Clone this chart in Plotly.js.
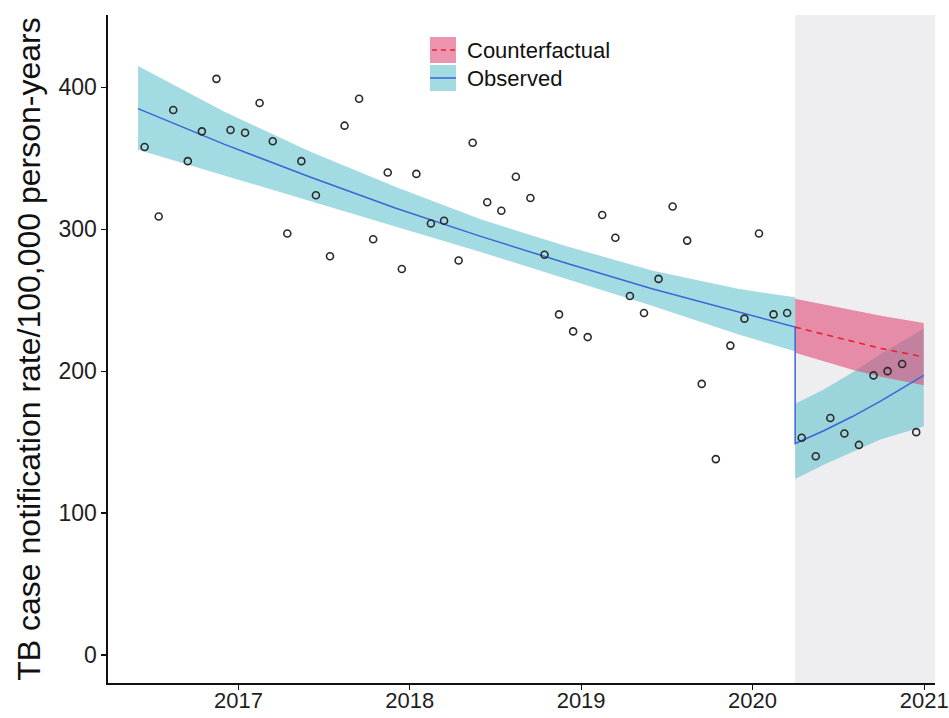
<!DOCTYPE html>
<html>
<head>
<meta charset="utf-8">
<script src="https://cdn.plot.ly/plotly-3.0.1.min.js"></script>
<style>
  html, body { margin: 0; padding: 0; background: #ffffff; }
  #chart { width: 949px; height: 718px; }
</style>
</head>
<body>
<div id="chart"></div>
<script>
// Monthly TB case notification rates (per 100,000 person-years), Jun 2016 - Dec 2020
var months = [
  "2016-06","2016-07","2016-08","2016-09","2016-10","2016-11","2016-12",
  "2017-01","2017-02","2017-03","2017-04","2017-05","2017-06","2017-07","2017-08","2017-09","2017-10","2017-11","2017-12",
  "2018-01","2018-02","2018-03","2018-04","2018-05","2018-06","2018-07","2018-08","2018-09","2018-10","2018-11","2018-12",
  "2019-01","2019-02","2019-03","2019-04","2019-05","2019-06","2019-07","2019-08","2019-09","2019-10","2019-11","2019-12",
  "2020-01","2020-02","2020-03","2020-04","2020-05","2020-06","2020-07","2020-08","2020-09","2020-10","2020-11","2020-12"
];
var rates = [
  358, 309, 384, 348, 369, 406, 370,
  368, 389, 362, 297, 348, 324, 281, 373, 392, 293, 340, 272,
  339, 304, 306, 278, 361, 319, 313, 337, 322, 282, 240, 228,
  224, 310, 294, 253, 241, 265, 316, 292, 191, 138, 218, 237,
  297, 240, 241, 153, 140, 167, 156, 148, 197, 200, 205, 157
];

// Fitted trend before the interruption (Apr 2020) with its confidence band
var preDates  = ["2016-06-01","2016-12-01","2017-06-01","2017-12-01","2018-06-01","2018-12-01","2019-06-01","2019-12-01","2020-04-01"];
var preFit    = [385, 360, 337, 315, 295, 276, 258, 242, 231];
var preLower  = [356, 338, 320, 302, 284, 265, 246, 226, 214];
var preUpper  = [415, 383, 355, 330, 307, 288, 271, 258, 252];

// Observed trend after the interruption
var postDates = ["2020-04-01","2020-06-01","2020-08-01","2020-10-01","2020-12-31"];
var postFit   = [149, 158, 168, 179, 197];
var postLower = [124, 134, 143, 152, 161];
var postUpper = [177, 187, 199, 212, 230];

// Counterfactual continuation of the pre-interruption trend
var cfFit     = [231, 226, 221, 216, 210];
var cfLower   = [213, 207, 201, 196, 190];
var cfUpper   = [251, 247, 243, 239, 234];

var interruption = "2020-04-01";
var xRange = ["2016-03-29", "2021-01-24"];
var yRange = [-19.8, 451];
var yTicks = [0, 100, 200, 300, 400];
var xTickVals = ["2017-01-01","2018-01-01","2019-01-01","2020-01-01","2021-01-01"];
var xTickText = ["2017","2018","2019","2020","2021"];

var CYAN_FILL = "rgba(100,195,205,0.6)";
var PINK_FILL = "rgba(225,60,110,0.55)";
var BLUE = "#3a66d6";
var RED = "#e4232e";
var FONT = "Liberation Sans, Arial, sans-serif";

function band(dates, lower, upper, color) {
  return {
    x: dates.concat(dates.slice().reverse()),
    y: upper.concat(lower.slice().reverse()),
    type: "scatter", mode: "lines", fill: "toself",
    fillcolor: color, line: { width: 0 },
    hoverinfo: "skip", showlegend: false
  };
}

var traces = [
  band(preDates, preLower, preUpper, CYAN_FILL),
  band(postDates, postLower, postUpper, CYAN_FILL),
  band(postDates, cfLower, cfUpper, PINK_FILL),
  {
    x: postDates, y: cfFit, type: "scatter", mode: "lines",
    line: { color: RED, width: 1.6, dash: "6px,5px" }, showlegend: false
  },
  {
    x: preDates.concat(postDates), y: preFit.concat(postFit),
    type: "scatter", mode: "lines",
    line: { color: BLUE, width: 1.5 }, showlegend: false
  },
  {
    x: months.map(function (m) { return m + "-15"; }), y: rates,
    type: "scatter", mode: "markers",
    marker: { symbol: "circle-open", size: 7, color: "#2a2a2a", line: { width: 1.6, color: "#2a2a2a" } },
    showlegend: false
  }
];

// Plot area in pixels, used to place the legend keys
var M = { l: 108, r: 14, t: 15, b: 35 };
var W = 949, H = 718;
function px(xp) { return (xp - M.l) / (W - M.l - M.r); }
function py(yp) { return (H - M.b - yp) / (H - M.t - M.b); }

var shapes = [
  { type: "rect", xref: "x", yref: "paper", x0: interruption, x1: xRange[1], y0: 0, y1: 1,
    fillcolor: "#eeeef0", line: { width: 0 }, layer: "below" },
  // legend keys
  { type: "rect", xref: "paper", yref: "paper", x0: px(430), x1: px(456), y0: py(63), y1: py(37),
    fillcolor: PINK_FILL, line: { width: 0 } },
  { type: "line", xref: "paper", yref: "paper", x0: px(432), x1: px(455), y0: py(50), y1: py(50),
    line: { color: RED, width: 1.6, dash: "5px,4px" } },
  { type: "rect", xref: "paper", yref: "paper", x0: px(430), x1: px(456), y0: py(91), y1: py(65),
    fillcolor: CYAN_FILL, line: { width: 0 } },
  { type: "line", xref: "paper", yref: "paper", x0: px(430), x1: px(456), y0: py(78), y1: py(78),
    line: { color: BLUE, width: 1.5 } }
];

var annotations = [
  { xref: "paper", yref: "paper", x: px(465), y: py(51), xanchor: "left", yanchor: "middle",
    text: "Counterfactual", showarrow: false, font: { family: FONT, size: 22, color: "#111" } },
  { xref: "paper", yref: "paper", x: px(465), y: py(79), xanchor: "left", yanchor: "middle",
    text: "Observed", showarrow: false, font: { family: FONT, size: 22, color: "#111" } }
];

var layout = {
  width: W, height: H,
  margin: M,
  paper_bgcolor: "#ffffff", plot_bgcolor: "#ffffff",
  showlegend: false,
  xaxis: {
    type: "date", range: xRange,
    tickmode: "array", tickvals: xTickVals, ticktext: xTickText,
    showgrid: false, zeroline: false,
    showline: true, linecolor: "#111", linewidth: 1.6,
    ticks: "outside", ticklen: 5, tickwidth: 1.2, tickcolor: "#111",
    ticklabelstandoff: -8, ticklabeloverflow: "allow",
    tickfont: { family: FONT, size: 22, color: "#1e1e1e" }
  },
  yaxis: {
    range: yRange, tickmode: "array", tickvals: yTicks,
    showgrid: false, zeroline: false,
    showline: true, linecolor: "#111", linewidth: 1.6,
    ticks: "outside", ticklen: 5, tickwidth: 1.2, tickcolor: "#111",
    tickfont: { family: FONT, size: 23, color: "#1e1e1e" },
    title: { text: "TB case notification rate/100,000 person-years",
             font: { family: FONT, size: 32, color: "#111" }, standoff: 8 }
  },
  shapes: shapes,
  annotations: annotations
};

Plotly.newPlot("chart", traces, layout, { displayModeBar: false, staticPlot: true });
</script>
</body>
</html>
